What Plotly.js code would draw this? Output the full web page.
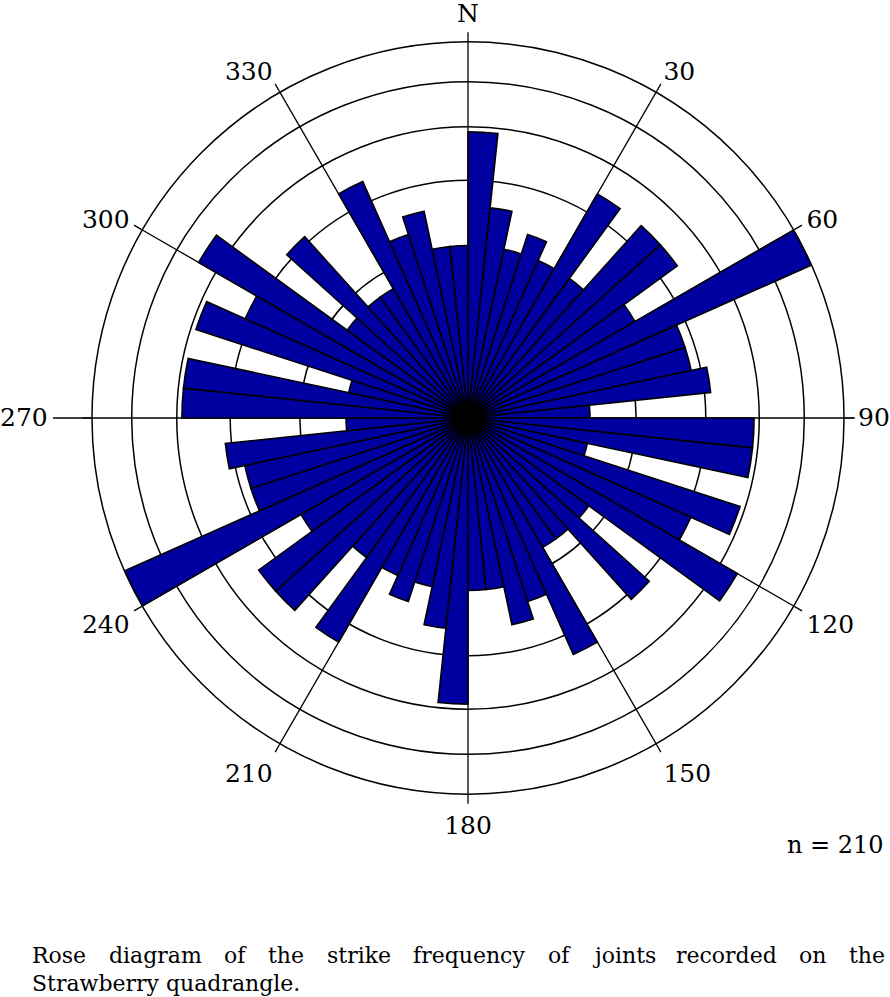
<!DOCTYPE html>
<html>
<head>
<meta charset="utf-8">
<script src="https://cdn.plot.ly/plotly-3.0.1.min.js"></script>
<style>
  html, body { margin: 0; padding: 0; background: #ffffff; }
  #chart { width: 890px; height: 997px; }
</style>
</head>
<body>
<div id="chart"></div>
<script>
// Strike-frequency counts per 6-degree bin, 0-6 ... 174-180 (strikes are bidirectional,
// so each bin is also drawn at its opposite direction, 180-360).
const binStart = [0, 6, 12, 18, 24, 30, 36, 42, 48, 54, 60, 66, 72, 78, 84,
                  90, 96, 102, 108, 114, 120, 126, 132, 138, 144, 150, 156, 162, 168, 174];
const counts   = [11, 6, 4, 5, 4, 9, 4, 9, 9, 5, 19, 7, 7, 8, 2,
                  11, 11, 2, 11, 8, 13, 3, 8, 3, 3, 9, 5, 6, 4, 4];
const binWidth = 6;
const maxCount = 19;          // outer circle
const ringCount = 5;          // equal-area rings
const angleTicks = [0, 30, 60, 90, 120, 150, 180, 210, 240, 270, 300, 330];
const angleLabels = ['N', '30', '60', '90', '120', '150', '180', '210', '240', '270', '300', '330'];
const nLabel = 'n = 210';
const captionLine1 = ['Rose', 'diagram', 'of', 'the', 'strike', 'frequency', 'of', 'joints', 'recorded', 'on', 'the'];
const captionLine2 = 'Strawberry quadrangle.';

// equal-area (square-root) radial scale
const theta = [], r = [];
for (let i = 0; i < counts.length; i++) {
  theta.push(binStart[i] + binWidth / 2);
  r.push(Math.sqrt(counts[i]));
}
for (let i = 0; i < counts.length; i++) {
  theta.push(binStart[i] + 180 + binWidth / 2);
  r.push(Math.sqrt(counts[i]));
}
const ringVals = [];
for (let k = 1; k < ringCount; k++) ringVals.push(Math.sqrt(maxCount * k / ringCount));

const W = 890, H = 997;
const cx = 468, cy = 418, R = 376;
const px = x => x / W, py = y => 1 - y / H;

const serifName = 'DejaVu Serif';
const serif = 'DejaVu Serif, Liberation Serif, serif';
const capSize = 22;
const tickSize = 25;

// the 90 and 270 labels sit further out, at the ends of the horizontal line
const tickText = angleLabels.map(t => (t === '90' || t === '270') ? '' : t);

const annotations = [];
// justified first caption line: one text per word, spread across the line
const ctx = document.createElement('canvas').getContext('2d');
ctx.font = capSize + 'px "' + serifName + '"';
const widths = captionLine1.map(w => ctx.measureText(w).width);
const x0 = 31, x1 = 884;
const total = widths.reduce((a, b) => a + b, 0);
const gap = (x1 - x0 - total) / (captionLine1.length - 1);
let xpos = x0;
captionLine1.forEach((w, i) => {
  annotations.push({
    text: w, xref: 'paper', yref: 'paper', x: px(xpos), y: py(955),
    xanchor: 'left', yanchor: 'middle', showarrow: false, borderpad: 0,
    font: {family: serif, size: capSize, color: '#000'}
  });
  xpos += widths[i] + gap;
});
annotations.push({
  text: captionLine2, xref: 'paper', yref: 'paper', x: px(x0), y: py(983),
  xanchor: 'left', yanchor: 'middle', showarrow: false, borderpad: 0,
  font: {family: serif, size: capSize, color: '#000'}
});
annotations.push({
  text: nLabel, xref: 'paper', yref: 'paper', x: px(886), y: py(845),
  xanchor: 'right', yanchor: 'middle', showarrow: false,
  font: {family: serif, size: 24, color: '#000'}
});
annotations.push({
  text: '270', xref: 'paper', yref: 'paper', x: px(50), y: py(cy),
  xanchor: 'right', yanchor: 'middle', showarrow: false,
  font: {family: serif, size: tickSize, color: '#000'}
});
annotations.push({
  text: '90', xref: 'paper', yref: 'paper', x: px(856), y: py(cy),
  xanchor: 'left', yanchor: 'middle', showarrow: false,
  font: {family: serif, size: tickSize, color: '#000'}
});

const shapes = [
  {type: 'line', xref: 'paper', yref: 'paper', x0: px(53), x1: px(cx - R), y0: py(cy), y1: py(cy),
   line: {color: '#000', width: 1.3}},
  {type: 'line', xref: 'paper', yref: 'paper', x0: px(cx + R), x1: px(855), y0: py(cy), y1: py(cy),
   line: {color: '#000', width: 1.3}}
];

const data = [{
  type: 'barpolar',
  r: r,
  theta: theta,
  width: binWidth,
  marker: {color: '#0000a0', line: {color: '#000000', width: 1.6}},
  hoverinfo: 'skip'
}];

const layout = {
  width: W, height: H,
  margin: {l: 0, r: 0, t: 0, b: 0},
  paper_bgcolor: '#ffffff',
  showlegend: false,
  polar: {
    domain: {x: [px(cx - R), px(cx + R)], y: [py(cy + R), py(cy - R)]},
    bgcolor: '#ffffff',
    radialaxis: {
      range: [0, Math.sqrt(maxCount)],
      tickmode: 'array', tickvals: ringVals,
      showticklabels: false, ticks: '', showline: false,
      gridcolor: '#000000', gridwidth: 1.5
    },
    angularaxis: {
      rotation: 90, direction: 'clockwise',
      tickmode: 'array', tickvals: angleTicks, ticktext: tickText,
      ticks: 'outside', ticklen: 9, tickwidth: 1.3, tickcolor: '#000000',
      showline: true, linecolor: '#000000', linewidth: 1.5,
      showgrid: true, gridcolor: '#000000', gridwidth: 1.3,
      tickfont: {family: serif, size: tickSize, color: '#000000'}
    }
  },
  shapes: shapes,
  annotations: annotations
};

Plotly.newPlot('chart', data, layout, {displayModeBar: false, staticPlot: true});
</script>
</body>
</html>
